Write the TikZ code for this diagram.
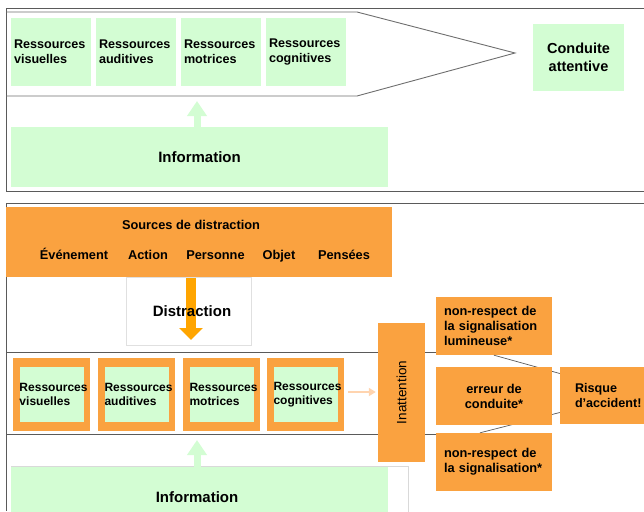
\documentclass[tikz,border=0pt]{standalone}
\usepackage{fontspec}
\setmainfont{Liberation Sans}
\usetikzlibrary{arrows.meta,calc}
\definecolor{gfill}{RGB}{211,253,211}
\definecolor{ofill}{RGB}{250,162,64}
\definecolor{oarrow}{RGB}{255,165,0}
\definecolor{peach}{RGB}{255,212,175}
\definecolor{framec}{RGB}{90,90,90}
\definecolor{pentc}{RGB}{110,110,110}
\begin{document}
\begin{tikzpicture}[x=1pt,y=-1pt,
  frameline/.style={draw=framec,line width=0.9pt},
  gbox/.style={rectangle,fill=gfill,inner sep=0pt},
  obox/.style={rectangle,fill=ofill,inner sep=0pt},
  restop/.style={gbox,minimum width=80pt,minimum height=68pt,text width=74pt,align=left,font=\fontsize{12.6}{15}\selectfont\bfseries},
  resbot/.style={gbox,minimum width=64pt,minimum height=55pt,text width=64pt,align=left,font=\fontsize{12}{14}\selectfont\bfseries},
  resframe/.style={obox,minimum width=77pt,minimum height=73pt},
  bigtxt/.style={font=\fontsize{15}{18}\selectfont\bfseries},
  midtxt/.style={font=\fontsize{12.8}{15}\selectfont\bfseries,text height=9.5pt,text depth=2.5pt,inner sep=0pt},
  garrow/.style={draw=gfill,line width=7pt,-{Triangle[width=19pt,length=15pt]}},
  oarr/.style={draw=oarrow,line width=10pt,-{Triangle[width=23pt,length=12pt]}},
  parr/.style={draw=peach,line width=2pt,-{Triangle[width=8pt,length=7pt]}},
  outbox/.style={obox,minimum width=116pt,minimum height=58pt,font=\fontsize{12.8}{15}\selectfont\bfseries}
]
\useasboundingbox (0,0) rectangle (644,511);

% ---- frame lines, top section
\draw[frameline] (644,8) -- (6,8) -- (6,191) -- (644,191);
\draw[draw=pentc,line width=0.9pt] (6,12) -- (357,12) -- (515,53) -- (357,96) -- (6,96);

% ---- top resources
\node[restop] (t1) at (51,52) {Ressources\\visuelles};
\node[restop] (t2) at (136,52) {Ressources\\auditives};
\node[restop] (t3) at (221,52) {Ressources\\motrices};
\node[restop] (t4) at (306,52) {Ressources\\cognitives};
\node[gbox,minimum width=91pt,minimum height=66pt,align=center,font=\fontsize{14.5}{18}\selectfont\bfseries] (cond) at (578.5,57.5) {Conduite\\attentive};

\node[gbox,minimum width=377pt,minimum height=60pt,bigtxt] (info1) at (199.5,157) {Information};
\coordinate (a1) at (197,101);
\draw[garrow] (a1 |- info1.north) -- (a1);

% ---- frame lines, bottom section
\draw[frameline] (644,203) -- (6,203) -- (6,511);
\coordinate (f1) at (6,352);
\coordinate (f2) at (6,434);

% ---- sources of distraction
\node[obox,minimum width=386pt,minimum height=70pt] (src) at (199,242) {};
\node[midtxt] (srct) at (191,225.5) {Sources de distraction};
\node[midtxt] (s1) at (74,255.5) {Événement};
\node[midtxt] (s2) at (148,255.5) {Action};
\node[midtxt] (s3) at (215.5,255.5) {Personne};
\node[midtxt] (s4) at (279,255.5) {Objet};
\node[midtxt] (s5) at (344,255.5) {Pensées};

\coordinate (a2) at (191,340);
\draw[oarr] (a2 |- src.south) -- (a2);
\node[draw=black!12,line width=0.6pt,minimum width=125pt,minimum height=68pt,inner sep=0pt] (dist) at (188.5,311) {};
\node[bigtxt] (distt) at (192,311) {Distraction};

% ---- outcome boxes
\node[outbox,text width=100pt,align=left] (nrl) at (494,326) {non-respect de\\la signalisation\\lumineuse*};
\node[outbox,text width=100pt,align=left] (nrs) at (494,462) {non-respect de\\la signalisation*};
\node[obox,minimum width=98pt,minimum height=57pt,text width=68pt,align=left,font=\fontsize{12.6}{15}\selectfont\bfseries] (risk) at (609,395.5) {Risque\\d’accident!};

\draw[draw=framec,line width=0.7pt] (nrl.south) -- ([yshift=22pt]risk.west);
\draw[draw=framec,line width=0.7pt] ([xshift=-14pt]nrs.north) -- ([yshift=-17pt]risk.west);
\node[outbox,align=center] (err) at (494,396) {erreur de\\conduite*};

\draw[frameline] (f1) -- (f1 -| nrl.west);
\draw[frameline] (f2) -- (f2 -| nrs.west);

% ---- bottom resources
\node[resframe] (b1f) at (51.5,394.5) {};
\node[resframe] (b2f) at (136.5,394.5) {};
\node[resframe] (b3f) at (221.5,394.5) {};
\node[resframe] (b4f) at (305.5,394.5) {};
\node[resbot] (b1) at (b1f) {Ressources\\visuelles};
\node[resbot] (b2) at (b2f) {Ressources\\auditives};
\node[resbot] (b3) at (b3f) {Ressources\\motrices};
\node[resbot] (b4) at (b4f) {Ressources\\cognitives};

\node[obox,rotate=90,minimum width=139pt,minimum height=47pt,font=\fontsize{13.5}{16}\selectfont] (inatt) at (401.5,392.5) {Inattention};
\coordinate (pa) at (348,392);
\draw[parr] (pa) -- ([xshift=-2pt]pa -| inatt.north);

% ---- bottom information
\node[draw=black!15,line width=0.6pt,minimum width=397pt,minimum height=64pt,inner sep=0pt] (infobg) at (209.5,498) {};
\node[gbox,minimum width=377pt,minimum height=63pt,bigtxt] (info2) at (199.5,498.5) {};
\node[bigtxt] (info2t) at (197,497) {Information};
\coordinate (a3) at (197,440);
\draw[garrow] (a3 |- info2.north) -- (a3);
\end{tikzpicture}
\end{document}
